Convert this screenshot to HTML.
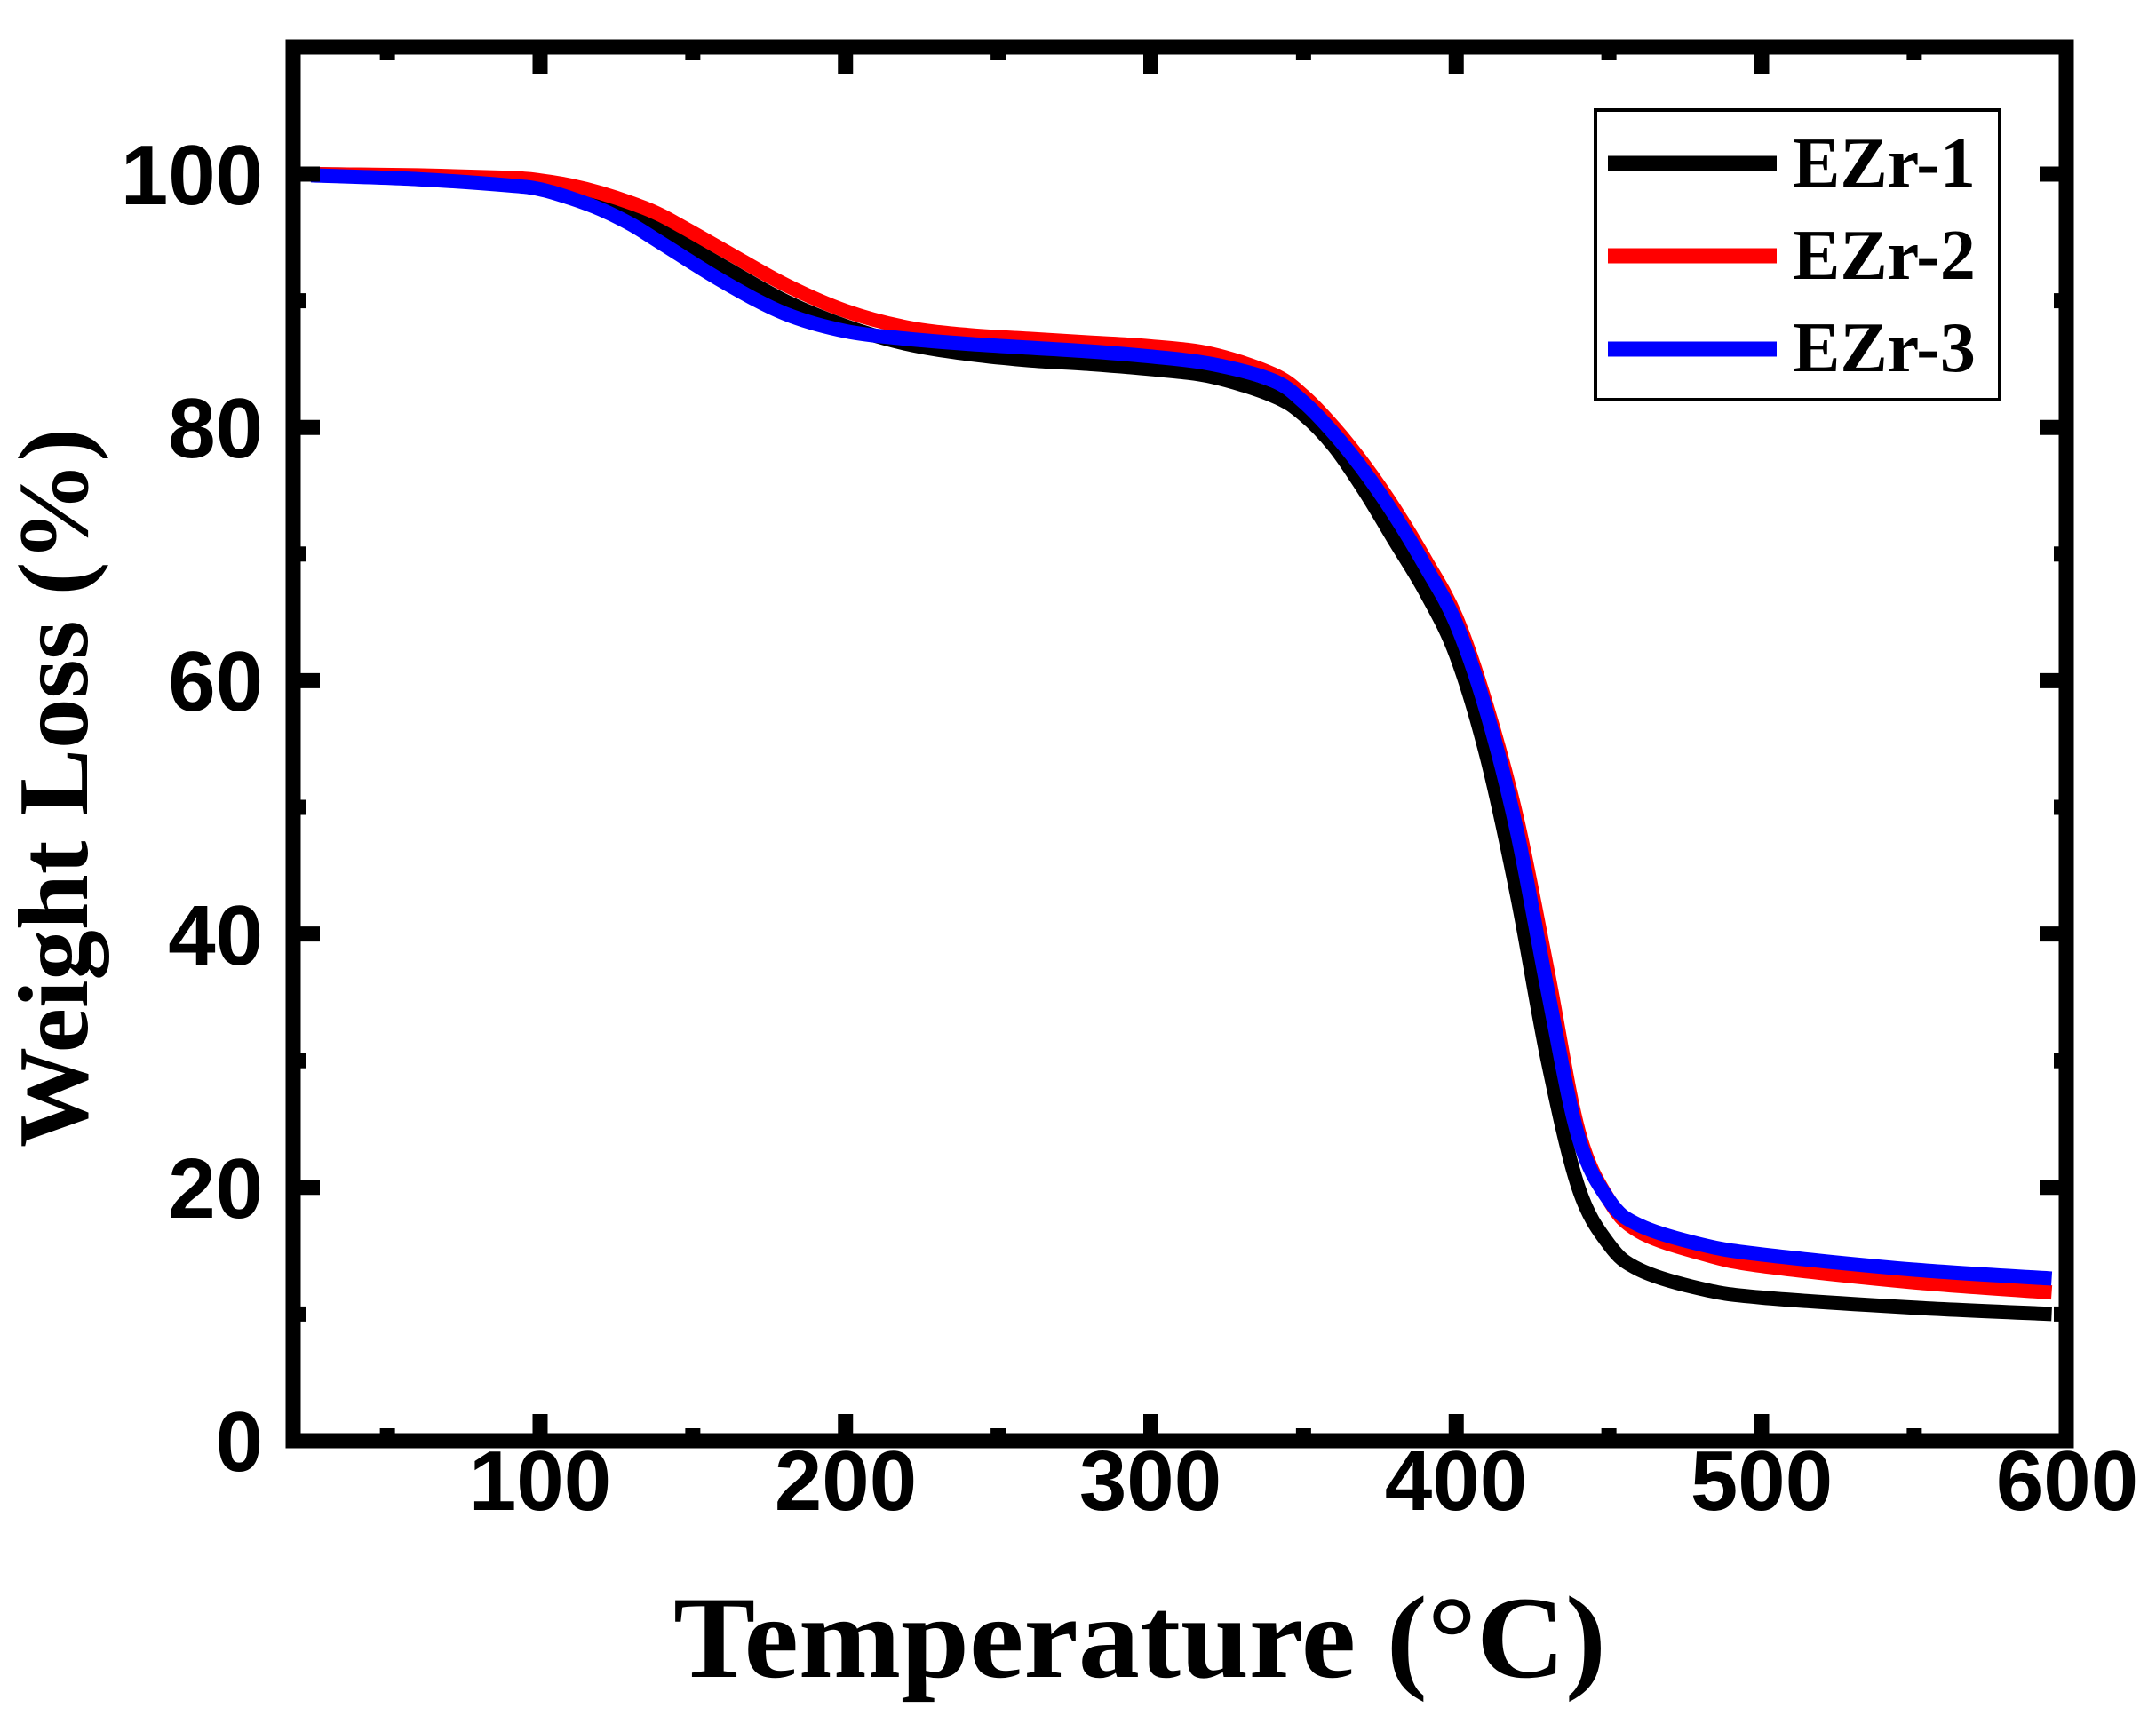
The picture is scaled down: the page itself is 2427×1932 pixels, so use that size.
<!DOCTYPE html>
<html><head><meta charset="utf-8"><style>
html,body{margin:0;padding:0;background:#fff;}
svg{display:block;}
.tl{font-family:"Liberation Sans",Arial,sans-serif;font-weight:bold;font-size:96px;}
.ti{font-family:"Liberation Serif","Times New Roman",serif;font-weight:bold;}
</style></head><body>
<svg id="s" width="2427" height="1932" viewBox="0 0 2427 1932" xmlns="http://www.w3.org/2000/svg">
<g id="curves" fill="none" stroke-width="16" stroke-linejoin="round"></g>
<g id="ticks" stroke="#000" stroke-width="17"></g>
<rect x="330" y="53" width="1996" height="1569" fill="none" stroke="#000" stroke-width="17"/>
<g class="tl" text-anchor="end">
<text x="296" y="230">100</text>
<text x="296" y="515">80</text>
<text x="296" y="800">60</text>
<text x="296" y="1086">40</text>
<text x="296" y="1371">20</text>
<text x="296" y="1656">0</text>
</g>
<g class="tl" text-anchor="middle">
<text x="608" y="1700">100</text>
<text x="952" y="1700">200</text>
<text x="1295" y="1700">300</text>
<text x="1639" y="1700">400</text>
<text x="1983" y="1700">500</text>
<text x="2327" y="1700">600</text>
</g>
<text class="ti" x="1283" y="1888" font-size="132" text-anchor="middle" textLength="1050" lengthAdjust="spacingAndGlyphs">Temperature (°C)</text>
<text class="ti" transform="translate(98,887) rotate(-90)" font-size="112" text-anchor="middle" textLength="810" lengthAdjust="spacingAndGlyphs">Weight Loss (%)</text>
<rect x="1796" y="124" width="455" height="326" fill="#fff" stroke="#000" stroke-width="4"/>
<line x1="1810" y1="184" x2="2000" y2="184" stroke="#000" stroke-width="17"/>
<line x1="1810" y1="288" x2="2000" y2="288" stroke="#f00" stroke-width="17"/>
<line x1="1810" y1="393" x2="2000" y2="393" stroke="#00f" stroke-width="17"/>
<g class="ti" font-size="80">
<text x="2018" y="210">EZr-1</text>
<text x="2018" y="314">EZr-2</text>
<text x="2018" y="418">EZr-3</text>
</g>
</svg>
<script>
(function(){
var X=function(t){return 608+(t-100)*3.4375;};
var Y=function(v){return 1622-14.26*v;};
var data={
"#000":[[25,100],[50,99.9],[80,99.6],[100,99.1],[110,98.6],[120,97.8],[130,96.8],[140,95.5],[160,92.7],[180,90],[200,88],[220,86.6],[240,85.8],[260,85.3],[280,85],[300,84.6],[320,84],[340,82.5],[350,81],[360,78.5],[370,75],[380,71],[390,67],[400,62],[410,54],[420,43],[430,30],[440,20],[450,15.5],[460,13.5],[480,12],[500,11.3],[550,10.5],[595,10]],
"#f00":[[25,100],[60,99.9],[90,99.7],[100,99.5],[110,99.1],[120,98.5],[130,97.7],[140,96.7],[160,94],[180,91.3],[200,89.2],[220,87.9],[240,87.3],[260,87],[280,86.7],[300,86.4],[320,85.8],[340,84.2],[350,82.5],[360,80],[370,77],[380,73.5],[390,69.5],[400,65],[410,58],[420,49],[430,37],[440,24.5],[450,19],[460,16.5],[480,14.8],[500,13.8],[550,12.5],[595,11.7]],
"#00f":[[25,99.9],[60,99.6],[90,99.1],[100,98.8],[110,98.1],[120,97.2],[130,96],[140,94.5],[160,91.5],[180,89],[200,87.6],[220,87],[240,86.6],[260,86.3],[280,86],[300,85.6],[320,85],[340,83.7],[350,82],[360,79.5],[370,76.5],[380,73],[390,69],[400,64.5],[410,57.5],[420,48],[430,35.5],[440,24],[450,19],[460,17],[480,15.5],[500,14.7],[550,13.5],[595,12.8]]};
var ns="http://www.w3.org/2000/svg",g=document.getElementById("curves");
for(var c in data){var p=data[c].map(function(d){return [X(d[0]),Y(d[1])];});
var s="M"+p[0][0]+","+p[0][1];
for(var i=0;i<p.length-1;i++){var p0=p[i-1]||p[i],p1=p[i],p2=p[i+1],p3=p[i+2]||p2;
s+=" C"+(p1[0]+(p2[0]-p0[0])/6)+","+(p1[1]+(p2[1]-p0[1])/6)+" "+(p2[0]-(p3[0]-p1[0])/6)+","+(p2[1]-(p3[1]-p1[1])/6)+" "+p2[0]+","+p2[1];}
var e=document.createElementNS(ns,"path");e.setAttribute("d",s);e.setAttribute("stroke",c);g.appendChild(e);}
var t=document.getElementById("ticks");
function L(a,b,c,d){var e=document.createElementNS(ns,"line");e.setAttribute("x1",a);e.setAttribute("y1",b);e.setAttribute("x2",c);e.setAttribute("y2",d);t.appendChild(e);}
for(var v=50;v<=550;v+=50){var x=X(v),len=(v%100==0)?30:14;L(x,1622,x,1622-len);L(x,53,x,53+len);}
for(var v=10;v<=100;v+=10){var y=Y(v),len=(v%20==0)?30:14;L(330,y,330+len,y);L(2326,y,2326-len,y);}
})();
</script>
</body></html>
